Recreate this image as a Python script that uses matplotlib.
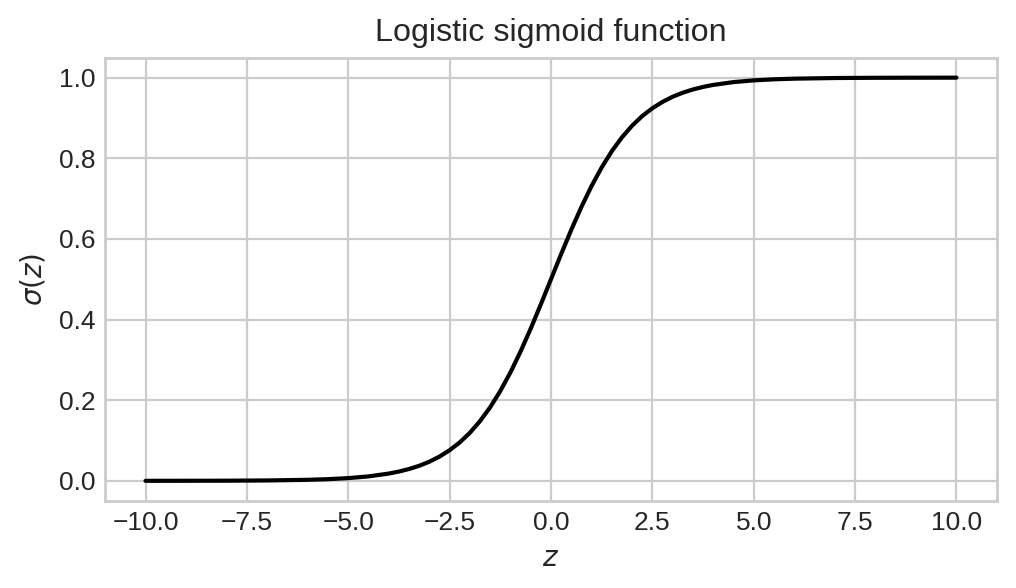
import matplotlib
matplotlib.use("Agg")
import matplotlib.pyplot as plt

z_vals = [-10, -9, -8, -7, -6, -5.5, -5, -4.5, -4, -3.75, -3.5, -3.25, -3,
          -2.75, -2.5, -2.25, -2, -1.75, -1.5, -1.25, -1, -0.75, -0.5, -0.25,
          0, 0.25, 0.5, 0.75, 1, 1.25, 1.5, 1.75, 2, 2.25, 2.5, 2.75, 3,
          3.25, 3.5, 3.75, 4, 4.5, 5, 5.5, 6, 7, 8, 9, 10]
sig_vals = [0.0000, 0.0001, 0.0003, 0.0009, 0.0025, 0.0041, 0.0067, 0.0110,
            0.0180, 0.0230, 0.0293, 0.0373, 0.0474, 0.0601, 0.0759, 0.0953,
            0.1192, 0.1481, 0.1824, 0.2227, 0.2689, 0.3208, 0.3775, 0.4378,
            0.5000, 0.5622, 0.6225, 0.6792, 0.7311, 0.7773, 0.8176, 0.8519,
            0.8808, 0.9047, 0.9241, 0.9399, 0.9526, 0.9627, 0.9707, 0.9770,
            0.9820, 0.9890, 0.9933, 0.9959, 0.9975, 0.9991, 0.9997, 0.9999,
            1.0000]

plt.style.use("seaborn-v0_8-whitegrid")
plt.rcParams["font.family"] = ["Liberation Sans", "DejaVu Sans"]
plt.rcParams["mathtext.fontset"] = "dejavusans"

fig = plt.figure(figsize=(5.08, 2.94), dpi=200)
ax = fig.add_axes([0.1033, 0.148, 0.878, 0.7542])

ax.plot(z_vals, sig_vals, color="black", lw=1.5)
ax.set_title("Logistic sigmoid function", fontsize=11.6)
ax.set_xlabel("$z$", fontsize=10)
ax.set_ylabel(r"$\sigma(z)$", fontsize=10)
ax.tick_params(labelsize=9.5)
for s in ax.spines.values():
    s.set_visible(True)
    s.set_color("#cccccc")
    s.set_linewidth(1.0)

fig.savefig("out.png", dpi=200)
